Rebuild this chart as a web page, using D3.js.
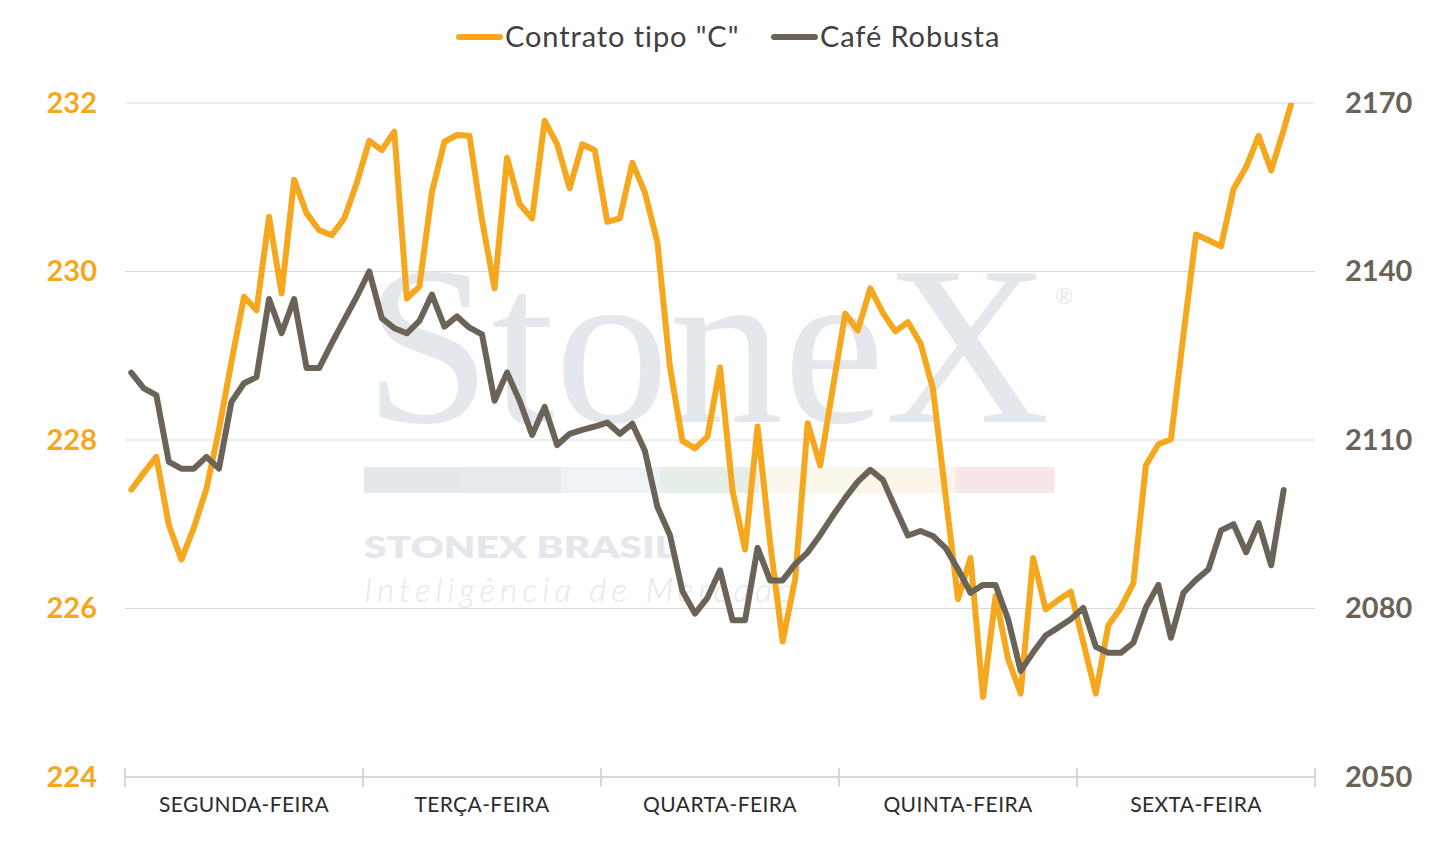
<!DOCTYPE html>
<html>
<head>
<meta charset="utf-8">
<script src="https://cdn.jsdelivr.net/npm/d3@7"></script>
<style>
  body { margin: 0; background: #fff; }
  text { font-family: Lato, "Open Sans", sans-serif; }
</style>
</head>
<body>
<div id="chart"></div>
<script>
// chart data
var days = ["SEGUNDA-FEIRA", "TERÇA-FEIRA", "QUARTA-FEIRA", "QUINTA-FEIRA", "SEXTA-FEIRA"];
var pointsPerDay = 19;

var contratoC = [
  227.41, 227.61, 227.80, 226.99, 226.58, 226.96, 227.42, 228.12, 228.93, 229.70,
  229.54, 230.65, 229.74, 231.09, 230.69, 230.49, 230.43, 230.63, 231.05, 231.55,
  231.44, 231.66, 229.68, 229.82, 230.94, 231.54, 231.62, 231.61, 230.61, 229.80,
  231.35, 230.80, 230.63, 231.79, 231.51, 230.99, 231.51, 231.44, 230.59, 230.63,
  231.29, 230.94, 230.35, 228.87, 227.99, 227.90, 228.04, 228.86, 227.40, 226.70,
  228.16, 226.78, 225.61, 226.35, 228.20, 227.70, 228.61, 229.50, 229.30, 229.80,
  229.51, 229.29, 229.40, 229.15, 228.61, 227.35, 226.11, 226.60, 224.95, 226.15,
  225.40, 224.99, 226.60, 225.99, 226.10, 226.20, 225.60, 224.99, 225.80, 226.01,
  226.30, 227.70, 227.95, 228.01, 229.25, 230.44, 230.37, 230.30, 230.98, 231.24,
  231.61, 231.20, 231.68, 232.20
];

var cafeRobusta = [
  2122.0, 2119.2, 2118.0, 2106.1, 2104.9, 2104.9, 2107.0, 2104.9, 2116.8, 2120.1,
  2121.2, 2135.1, 2129.0, 2135.1, 2122.8, 2122.8, 2127.2, 2131.4, 2135.5, 2140.0,
  2131.7, 2129.9, 2129.0, 2131.2, 2135.9, 2130.2, 2132.0, 2130.0, 2128.8, 2117.0,
  2122.0, 2117.0, 2110.9, 2115.9, 2109.1, 2111.1, 2111.8, 2112.4, 2113.1, 2111.1,
  2112.9, 2108.1, 2098.1, 2093.1, 2083.1, 2079.1, 2081.9, 2086.8, 2077.9, 2077.9,
  2090.8, 2085.0, 2085.0, 2087.9, 2090.0, 2093.1, 2096.5, 2099.7, 2102.6, 2104.7,
  2102.9, 2097.9, 2093.0, 2093.8, 2092.9, 2090.8, 2087.0, 2082.8, 2084.2, 2084.2,
  2078.1, 2068.9, 2072.2, 2075.2, 2076.6, 2078.1, 2080.1, 2073.2, 2072.1, 2072.1,
  2073.9, 2080.2, 2084.2, 2074.8, 2082.8, 2085.1, 2087.0, 2093.9, 2095.0, 2090.0,
  2095.2, 2087.7, 2101.1
];

var leftTicks = [224, 226, 228, 230, 232];
var rightTicks = [2050, 2080, 2110, 2140, 2170];
var seriesNames = ['Contrato tipo "C"', "Café Robusta"];

var orange = "#F5A71E";
var grey = "#6B6357";
var wm = "#E4E7EC";

var svgWidth = 1455;
var svgHeight = 842;
var margin = { top: 103, right: 140, bottom: 65, left: 125 };
var width = svgWidth - margin.left - margin.right;
var height = svgHeight - margin.top - margin.bottom;

var svg = d3.select("#chart")
  .append("svg")
  .attr("width", svgWidth)
  .attr("height", svgHeight)
  .style("display", "block");

var nSlots = days.length * pointsPerDay;

var x = d3.scaleLinear().domain([0, nSlots]).range([0, width]);
var yLeft = d3.scaleLinear().domain([224, 232]).range([height, 0]);
var yRight = d3.scaleLinear().domain([2050, 2170]).range([height, 0]);
var xDay = d3.scaleBand().domain(days).range([0, width]);

var g = svg.append("g")
  .attr("transform", `translate(${margin.left}, ${margin.top})`);

// gridlines
g.append("g").selectAll("line")
  .data(leftTicks.slice(1))
  .enter()
  .append("line")
  .attr("x1", 0).attr("x2", width)
  .attr("y1", d => yLeft(d)).attr("y2", d => yLeft(d))
  .attr("stroke", "#D9D9D9")
  .attr("stroke-width", 1);

// watermark
var w = g.append("g").attr("transform", `translate(${-margin.left}, ${-margin.top})`);
w.append("text")
  .attr("x", 364).attr("y", 422)
  .attr("textLength", 686)
  .attr("lengthAdjust", "spacingAndGlyphs")
  .style("font-family", "'Liberation Serif', 'DejaVu Serif', serif")
  .style("font-size", "226px")
  .attr("fill", wm)
  .text("StoneX");
w.append("text")
  .attr("x", 1055).attr("y", 304)
  .style("font-size", "22px")
  .attr("fill", wm)
  .text("®");
var bandColors = ["#E4E7EC", "#E7EBEF", "#EEF3F7", "#E6EEE8", "#FBF7EA", "#FBF4E8", "#F6E6E6"];
w.selectAll("rect.band")
  .data(bandColors)
  .enter()
  .append("rect")
  .attr("class", "band")
  .attr("x", (d, i) => 364 + i * 98.6)
  .attr("y", 467)
  .attr("width", 98.8)
  .attr("height", 26)
  .attr("fill", d => d);
w.append("text")
  .attr("x", 364).attr("y", 558)
  .attr("textLength", 312)
  .attr("lengthAdjust", "spacingAndGlyphs")
  .style("font-size", "31px")
  .style("font-weight", 800)
  .attr("fill", wm)
  .text("STONEX BRASIL");
w.append("text")
  .attr("x", 364).attr("y", 602)
  .attr("textLength", 430)
  .attr("lengthAdjust", "spacing")
  .style("font-size", "33px")
  .style("font-style", "italic")
  .style("font-weight", 300)
  .attr("fill", wm)
  .text("Inteligência de Mercado");

// x axis line + boundary ticks
g.append("line")
  .attr("x1", 0).attr("x2", width)
  .attr("y1", height).attr("y2", height)
  .attr("stroke", "#D9D9D9")
  .attr("stroke-width", 2);
g.append("g").selectAll("line")
  .data(d3.range(days.length + 1))
  .enter()
  .append("line")
  .attr("x1", d => x(d * pointsPerDay)).attr("x2", d => x(d * pointsPerDay))
  .attr("y1", height - 9).attr("y2", height + 10)
  .attr("stroke", "#D9D9D9")
  .attr("stroke-width", 2);

var bottomAxis = d3.axisBottom(xDay).tickSize(0).tickPadding(20);
var xAxisG = g.append("g")
  .attr("transform", `translate(0, ${height})`)
  .call(bottomAxis);
xAxisG.select(".domain").remove();
xAxisG.selectAll("text")
  .style("font-family", "Lato, sans-serif")
  .style("font-size", "21px")
  .style("letter-spacing", "0.4px")
  .attr("fill", "#2B2B2B");

// y axes
var leftAxis = d3.axisLeft(yLeft).tickValues(leftTicks).tickSize(0).tickPadding(28);
var leftG = g.append("g").call(leftAxis);
leftG.select(".domain").remove();
leftG.selectAll("text")
  .style("font-family", "Lato, sans-serif")
  .style("font-size", "29px")
  .style("font-weight", "bold")
  .attr("fill", orange);

var rightAxis = d3.axisRight(yRight).tickValues(rightTicks).tickFormat(d3.format("d")).tickSize(0).tickPadding(30);
var rightG = g.append("g")
  .attr("transform", `translate(${width}, 0)`)
  .call(rightAxis);
rightG.select(".domain").remove();
rightG.selectAll("text")
  .style("font-family", "Lato, sans-serif")
  .style("font-size", "29px")
  .style("font-weight", "bold")
  .attr("fill", grey);

// lines
g.append("clipPath").attr("id", "plotClip")
  .append("rect")
  .attr("x", 0).attr("y", 0)
  .attr("width", width).attr("height", height + 20);

var lineLeft = d3.line()
  .x((d, i) => x(i + 0.5))
  .y(d => yLeft(d));
var lineRight = d3.line()
  .x((d, i) => x(i + 0.5))
  .y(d => yRight(d));

g.append("path")
  .datum(contratoC)
  .attr("clip-path", "url(#plotClip)")
  .attr("d", lineLeft)
  .attr("fill", "none")
  .attr("stroke", orange)
  .attr("stroke-width", 6)
  .attr("stroke-linejoin", "round")
  .attr("stroke-linecap", "round");

g.append("path")
  .datum(cafeRobusta)
  .attr("d", lineRight)
  .attr("fill", "none")
  .attr("stroke", grey)
  .attr("stroke-width", 6)
  .attr("stroke-linejoin", "round")
  .attr("stroke-linecap", "round");

// legend
var legend = svg.append("g");
var legendItems = [
  { name: seriesNames[0], color: orange, x: 459 },
  { name: seriesNames[1], color: grey, x: 774 }
];
legendItems.forEach(function(item) {
  legend.append("line")
    .attr("x1", item.x).attr("x2", item.x + 41)
    .attr("y1", 37).attr("y2", 37)
    .attr("stroke", item.color)
    .attr("stroke-width", 6)
    .attr("stroke-linecap", "round");
  legend.append("text")
    .attr("x", item.x + 46)
    .attr("y", 37)
    .attr("dy", "0.35em")
    .style("font-size", "29px")
    .style("letter-spacing", "0.9px")
    .attr("fill", "#404040")
    .text(item.name);
});
</script>
</body>
</html>
